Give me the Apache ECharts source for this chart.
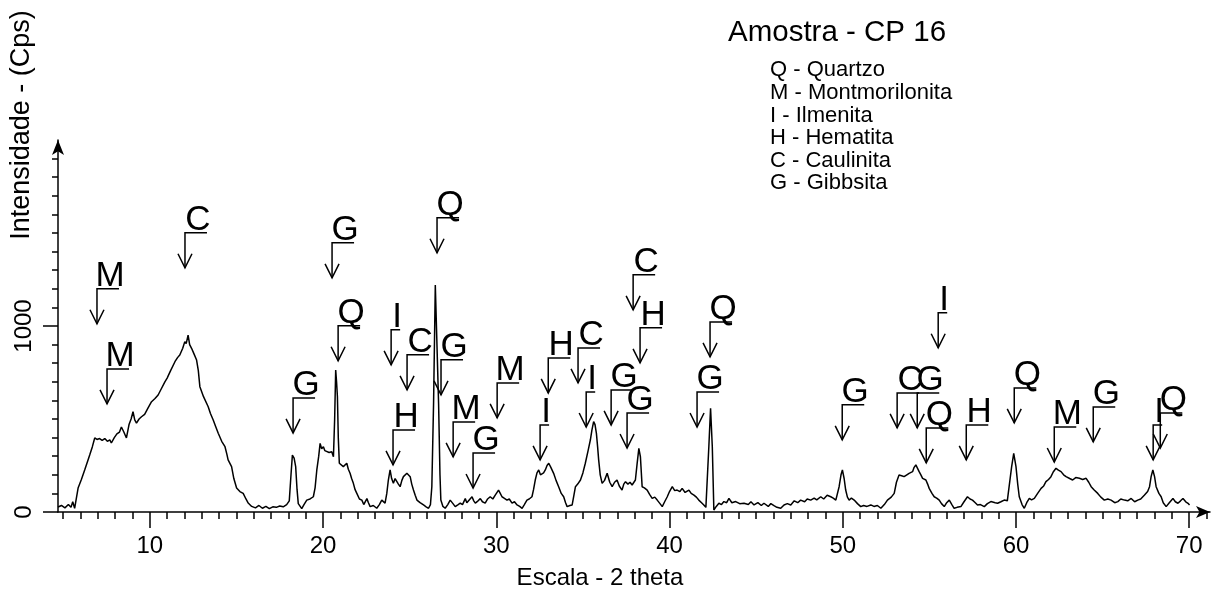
<!DOCTYPE html>
<html>
<head>
<meta charset="utf-8">
<script src="https://cdn.jsdelivr.net/npm/echarts@6/dist/echarts.min.js"></script>
<style>
  html, body { margin: 0; padding: 0; background: #fff; }
  #chart { width: 1214px; height: 591px; }
</style>
</head>
<body>
<div id="chart"></div>
<script>
// diffractogram
const TWO_THETA = [
  4.7, 4.9, 5.1, 5.3, 5.45, 5.55, 5.66, 5.86, 6.05, 6.24, 6.4, 6.53, 6.68, 6.82, 6.95, 7.1, 7.25, 7.4, 7.55, 7.69,
  7.78, 7.95, 8.1, 8.25, 8.36, 8.5, 8.65, 8.8, 8.92, 9.03, 9.13, 9.23, 9.38, 9.52, 9.7, 9.9, 10.1, 10.3, 10.48, 10.65,
  10.87, 11.0, 11.2, 11.45, 11.6, 11.73, 11.9, 12.02, 12.1, 12.21, 12.3, 12.41, 12.55, 12.7, 12.8, 12.89, 13.1, 13.37, 13.5, 13.66,
  13.8, 13.95, 14.15, 14.34, 14.45, 14.52, 14.72, 14.85, 15.01, 15.2, 15.39, 15.55, 15.68, 15.88, 16.1, 16.3, 16.5, 16.7, 16.9, 17.1,
  17.3, 17.5, 17.7, 17.9, 18.05, 18.15, 18.23, 18.33, 18.42, 18.5, 18.57, 18.77,
  18.9, 19.06, 19.25, 19.44, 19.54, 19.64, 19.75, 19.83, 19.92, 20.02, 20.1, 20.21, 20.35, 20.5, 20.6, 20.67, 20.73, 20.78, 20.83, 20.88,
  20.94, 21.05, 21.17, 21.27, 21.37, 21.46, 21.56, 21.65, 21.75, 21.85, 21.95, 22.1, 22.24, 22.35, 22.53, 22.62, 22.72, 22.9, 23.1, 23.25,
  23.39, 23.58, 23.68, 23.77, 23.87, 23.96, 24.06, 24.16, 24.26, 24.35, 24.45, 24.55, 24.64, 24.74, 24.84, 24.94, 25.03, 25.12, 25.22, 25.32,
  25.42, 25.6, 25.8, 25.95, 26.09, 26.2, 26.28, 26.38, 26.48, 26.57, 26.67, 26.75, 26.8, 26.92, 27.05, 27.2, 27.34, 27.5, 27.63, 27.8,
  27.92, 28.05, 28.21, 28.3, 28.4, 28.6, 28.7, 28.79, 28.95, 29.08, 29.2, 29.36, 29.5, 29.65, 29.8, 29.94, 30.05, 30.13, 30.23, 30.33,
  30.45, 30.62, 30.75, 30.91, 31.05, 31.2, 31.35, 31.49, 31.62, 31.77, 31.9, 32.06, 32.15, 32.25, 32.35, 32.45, 32.55, 32.64,
  32.73, 32.83, 32.93, 33.03, 33.15, 33.31, 33.45, 33.6, 33.75, 33.89, 34.0, 34.09, 34.25, 34.38, 34.48, 34.57, 34.7, 34.86, 35.0, 35.14,
  35.3, 35.43, 35.52, 35.62, 35.7, 35.78, 35.85, 35.91, 36.0, 36.11, 36.25, 36.4, 36.55, 36.69, 36.83, 36.97, 37.1, 37.26, 37.36, 37.46,
  37.6, 37.72, 37.84, 37.95, 38.03, 38.13, 38.23, 38.32, 38.42, 38.55, 38.71, 38.85, 39.0, 39.15, 39.29, 39.45, 39.58, 39.72, 39.87, 40.0,
  40.16, 40.3, 40.44, 40.6, 40.73, 40.9, 41.12, 41.25, 41.41, 41.55, 41.69, 41.85, 41.98, 42.1, 42.18, 42.27, 42.37, 42.47, 42.56, 42.7,
  42.85, 43.0, 43.14, 43.3, 43.43, 43.6, 43.82, 44.05, 44.3, 44.55, 44.7, 44.88, 45.1, 45.3, 45.45, 45.7, 45.85, 46.03, 46.2, 46.42, 46.61,
  46.8, 47.0, 47.2, 47.4, 47.57, 47.8, 47.95, 48.15, 48.35, 48.5, 48.73, 48.9, 49.1, 49.31, 49.45, 49.6, 49.79, 49.9, 49.98, 50.08,
  50.17, 50.27, 50.37, 50.5, 50.66, 50.85, 51.04, 51.2, 51.4, 51.62, 51.8, 52.0, 52.2, 52.4, 52.58, 52.8, 52.97, 53.1, 53.25, 53.4,
  53.54, 53.7, 53.83, 53.93, 54.03, 54.12, 54.22, 54.32, 54.41, 54.51, 54.61, 54.7, 54.8, 54.9, 54.99, 55.15, 55.28, 55.42, 55.57, 55.7,
  55.86, 56.0, 56.15, 56.3, 56.43, 56.6, 56.82, 57.0, 57.2, 57.35, 57.49, 57.65, 57.78, 57.95, 58.17, 58.35, 58.55, 58.8, 58.94, 59.13,
  59.32, 59.5, 59.61, 59.75, 59.87, 60.0, 60.1, 60.19, 60.35, 60.48, 60.62, 60.77, 60.9, 61.06, 61.25, 61.45, 61.6, 61.73, 61.88, 62.02,
  62.15, 62.31, 62.45, 62.6, 62.75, 62.89, 63.1, 63.27, 63.45, 63.66, 63.85, 64.05, 64.2, 64.34, 64.5, 64.72, 64.9, 65.1, 65.3, 65.49,
  65.7, 65.88, 66.05, 66.26, 66.45, 66.65, 66.85, 67.03, 67.2, 67.42, 67.6, 67.71, 67.8, 67.9, 68.0, 68.09, 68.25, 68.38, 68.5, 68.67,
  68.85, 69.06, 69.2, 69.35, 69.5, 69.64, 69.8, 69.93, 70.02
]
const CPS = [
  27, 35, 22, 40, 25, 55, 20, 129, 175, 226, 270, 306, 350, 398, 390, 395, 385, 395, 380, 388,
  371, 400, 420, 430, 457, 430, 398, 470, 500, 539, 495, 478, 500, 512, 525, 560, 593, 610, 629, 660,
  700, 720, 760, 808, 830, 844, 880, 916, 905, 951, 900, 880, 850, 817, 760, 674, 620, 566, 530, 495,
  460, 423, 380, 351, 310, 280, 244, 180, 129, 110, 100, 70, 48, 30, 22, 35, 20, 30, 18, 28,
  25, 32, 28, 40, 60, 200, 306, 290, 244, 120, 45, 18,
  40, 64, 70, 82, 130, 226, 300, 369, 340, 351, 330, 333, 320, 324, 297, 500, 763, 700, 620, 400,
  262, 270, 244, 250, 262, 230, 208, 180, 154, 120, 100, 70, 64, 40, 72, 50, 29, 35, 20, 40,
  64, 48, 100, 172, 226, 180, 154, 180, 172, 150, 136, 170, 190, 200, 208, 200, 190, 150, 118, 90,
  64, 50, 38, 28, 20, 40, 136, 584, 1220, 1211, 584, 200, 64, 30, 20, 40, 64, 45, 29, 40,
  48, 40, 72, 50, 56, 82, 60, 48, 60, 72, 55, 48, 70, 82, 70, 91, 100, 118, 100, 82,
  75, 64, 70, 48, 55, 38, 30, 20, 40, 64, 70, 82, 120, 172, 210, 226, 200, 190,
  210, 226, 250, 262, 240, 208, 170, 136, 100, 82, 50, 29, 35, 38, 90, 136, 150, 172, 210, 262,
  330, 387, 440, 486, 470, 423, 350, 280, 200, 154, 170, 208, 160, 136, 160, 172, 140, 118, 150, 163,
  150, 160, 145, 150, 172, 260, 342, 297, 136, 130, 118, 95, 73, 80, 64, 45, 29, 55, 82, 110,
  136, 115, 118, 110, 127, 105, 118, 100, 91, 80, 64, 50, 38, 25, 20, 351, 557, 351, 11, 30,
  47, 40, 56, 50, 73, 50, 56, 45, 47, 40, 55, 38, 50, 35, 47, 30, 45, 34, 25, 20, 38,
  45, 38, 60, 50, 64, 55, 70, 64, 75, 65, 82, 70, 90, 82, 75, 64, 136, 200, 226, 180,
  118, 80, 64, 75, 64, 45, 29, 35, 30, 38, 30, 35, 20, 40, 64, 80, 100, 160, 199, 195,
  190, 200, 208, 212, 217, 240, 253, 245, 217, 200, 181, 190, 172, 150, 127, 100, 82, 75, 64, 45,
  29, 50, 64, 40, 20, 25, 29, 55, 82, 70, 64, 50, 38, 40, 29, 45, 56, 50, 47, 55,
  64, 60, 64, 244, 315, 244, 150, 82, 40, 20, 50, 73, 65, 73, 100, 127, 140, 163, 175, 190,
  215, 235, 225, 217, 200, 190, 180, 172, 185, 181, 175, 181, 160, 136, 120, 100, 80, 64, 70, 64,
  50, 56, 70, 64, 60, 73, 55, 64, 70, 91, 110, 136, 190, 226, 190, 136, 100, 82, 50, 29,
  50, 73, 55, 47, 60, 73, 55, 47, 38
]

// phase markers: letter, 2theta of the arrow, cps at the arrow tip
const PEAK_LABELS = ['M', 'M', 'C', 'G', 'G', 'Q', 'I', 'C', 'H', 'Q', 'G', 'M', 'G', 'M', 'H', 'I', 'C', 'I',
  'G', 'C', 'H', 'G', 'Q', 'G', 'G', 'I', 'C', 'G', 'Q', 'H', 'Q', 'M', 'G', 'I', 'Q']
const PEAK_ANGLE = [6.95, 7.53, 12.03, 18.27, 20.52, 20.87, 23.93, 24.85, 24.04, 26.58, 26.81, 27.51, 28.66, 30.05, 33.0, 32.53, 34.72, 35.19,
  36.63, 37.9, 38.3, 37.55, 42.34, 41.59, 49.97, 55.51, 53.14, 54.3, 54.82, 57.13, 59.9, 62.21, 64.46, 67.92, 68.33]
const PEAK_ARROW_CPS = [1012, 581, 1313, 425, 1259, 813, 791, 657, 253, 1394, 630, 296, 129, 506, 640, 280, 694, 457,
  468, 1087, 802, 344, 834, 457, 388, 883, 452, 452, 264, 280, 479, 269, 377, 280, 344]

const X_TICKS = [10, 20, 30, 40, 50, 60, 70]
const Y_TICKS = [0, 1000]
const X_MINOR = []
for (let v = 5; v <= 71; v++) X_MINOR.push(v)
const Y_MINOR = []
for (let v = 100; v <= 1900; v += 100) Y_MINOR.push(v)

const LEGEND_LINES = ['Q - Quartzo', 'M - Montmorilonita', 'I - Ilmenita', 'H - Hematita', 'C - Caulinita', 'G - Gibbsita']

const FONT = 'Liberation Sans, Arial, sans-serif'
const INK = '#000'

const chart = echarts.init(document.getElementById('chart'))

const option = {
  backgroundColor: '#fff',
  animation: false,
  title: [
    {
      text: 'Amostra - CP 16',
      left: 728,
      top: 18,
      padding: 0,
      textStyle: { fontFamily: FONT, fontSize: 29.5, fontWeight: 'normal', color: INK },
    },
    {
      text: LEGEND_LINES.join('\n'),
      left: 770,
      top: 59,
      padding: 0,
      textStyle: { fontFamily: FONT, fontSize: 22, lineHeight: 22.6, fontWeight: 'normal', color: INK },
    },
  ],
  grid: { left: 58, right: 4, top: 140, bottom: 79, outerBoundsMode: 'none' },
  xAxis: [
    {
      type: 'value',
      min: 4.7,
      max: 71.2,
      axisLine: { show: true, symbol: ['none', 'arrow'], symbolSize: [9, 14], lineStyle: { color: INK, width: 1.5 } },
      axisTick: { show: true, customValues: X_TICKS, length: 16, lineStyle: { color: INK, width: 1.5 } },
      axisLabel: { customValues: X_TICKS, margin: 22, color: INK, fontFamily: FONT, fontSize: 24, formatter: (v) => String(v) },
      splitLine: { show: false },
    },
    {
      type: 'value',
      min: 4.7,
      max: 71.2,
      position: 'bottom',
      axisLine: { show: false },
      axisTick: { show: true, customValues: X_MINOR, length: 7, lineStyle: { color: INK, width: 1.5 } },
      axisLabel: { show: false },
      splitLine: { show: false },
    },
  ],
  yAxis: [
    {
      type: 'value',
      min: 0,
      max: 2000,
      position: 'left',
      axisLine: { show: true, symbol: ['none', 'arrow'], symbolSize: [9, 15], lineStyle: { color: INK, width: 1.5 } },
      axisTick: { show: true, customValues: Y_TICKS, length: 15, lineStyle: { color: INK, width: 1.5 } },
      axisLabel: { customValues: Y_TICKS, rotate: 90, margin: 22, color: INK, fontFamily: FONT, fontSize: 24, formatter: (v) => String(v) },
      splitLine: { show: false },
    },
    {
      type: 'value',
      min: 0,
      max: 2000,
      position: 'left',
      offset: 0,
      axisLine: { show: false },
      axisTick: { show: true, customValues: Y_MINOR, length: 6, lineStyle: { color: INK, width: 1.5 } },
      axisLabel: { show: false },
      splitLine: { show: false },
    },
  ],
  graphic: [
    {
      type: 'text',
      x: 22,
      y: 125,
      rotation: Math.PI / 2,
      style: { text: 'Intensidade - (Cps)', fill: INK, font: '27px ' + FONT, align: 'center', verticalAlign: 'middle' },
    },
    {
      type: 'text',
      x: 600,
      y: 578,
      style: { text: 'Escala - 2 theta', fill: INK, font: '24px ' + FONT, align: 'center', verticalAlign: 'middle' },
    },
  ],
  series: [
    {
      type: 'line',
      xAxisIndex: 0,
      yAxisIndex: 0,
      data: TWO_THETA.map((t, i) => [t, CPS[i]]),
      showSymbol: false,
      lineStyle: { color: INK, width: 1.5 },
      z: 3,
    },
    {
      type: 'custom',
      xAxisIndex: 0,
      yAxisIndex: 0,
      clip: false,
      z: 4,
      data: PEAK_ANGLE.map((a, i) => [a, PEAK_ARROW_CPS[i]]),
      renderItem: (params, api) => {
        const tip = api.coord([api.value(0), api.value(1)])
        const letter = PEAK_LABELS[params.dataIndex]
        const bar = letter === 'I' ? 9 : 22
        const top = tip[1] - 35
        const stroke = { stroke: INK, lineWidth: 1.5, fill: null }
        return {
          type: 'group',
          children: [
            { type: 'polyline', shape: { points: [[tip[0] + bar, top], [tip[0], top], [tip[0], tip[1]]] }, style: stroke },
            { type: 'polyline', shape: { points: [[tip[0] - 7, tip[1] - 14], [tip[0], tip[1]], [tip[0] + 7, tip[1] - 14]] }, style: stroke },
            {
              type: 'text',
              x: tip[0] + (letter === 'I' ? 6 : 13),
              y: top + 5,
              style: { text: letter, fill: INK, font: '35px ' + FONT, align: 'center', verticalAlign: 'bottom' },
            },
          ],
        }
      },
    },
  ],
}

chart.setOption(option)
window.addEventListener('resize', () => chart.resize())
</script>
</body>
</html>
